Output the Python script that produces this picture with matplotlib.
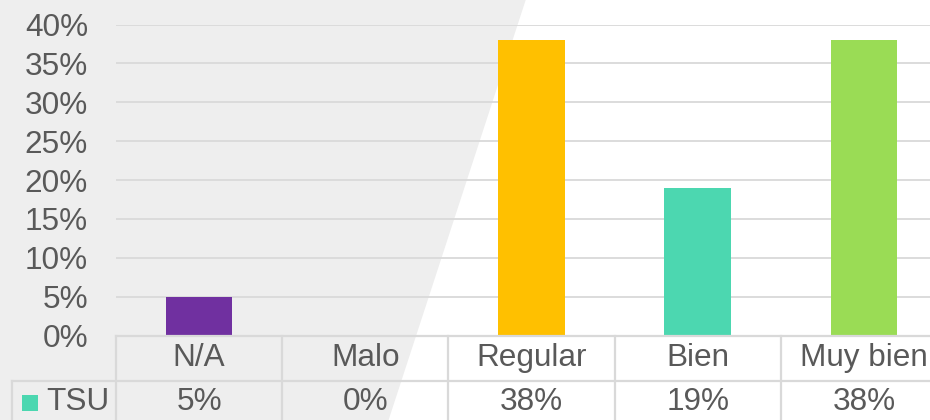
import matplotlib
matplotlib.use("Agg")
import matplotlib.pyplot as plt
from matplotlib.patches import Polygon, Rectangle
from matplotlib.lines import Line2D

categories = ["N/A", "Malo", "Regular", "Bien", "Muy bien"]
values = [5, 0, 38, 19, 38]
value_labels = ["5%", "0%", "38%", "19%", "38%"]
series_name = "TSU"
bar_colors = ["#7030A0", "#A5A5A5", "#FFC000", "#4CD7B0", "#9ADC55"]
legend_color = "#4CD7B0"
yticks = [0, 5, 10, 15, 20, 25, 30, 35, 40]

W, H = 930, 420
plt.rcParams['font.family'] = ['Liberation Sans', 'DejaVu Sans']
fig = plt.figure(figsize=(W / 100, H / 100), dpi=100, facecolor="white")

def fx(px):
    return px / W

def fy(py):
    return 1 - py / H

# background grey slanted shape
poly = Polygon([(fx(0), fy(0)), (fx(525.7), fy(0)), (fx(388.6), fy(420)), (fx(0), fy(420))],
               closed=True, transform=fig.transFigure, facecolor="#EEEEEE", edgecolor="none", zorder=-5)
fig.patches.append(poly)

left, right = 116, 947
top, bottom = 24.5, 335.5
ax = fig.add_axes([fx(left), fy(bottom), fx(right) - fx(left), (bottom - top) / H], zorder=1)
ax.set_facecolor("none")
x = list(range(len(categories)))
ax.bar(x, values, width=0.4, color=bar_colors, zorder=3)
ax.set_xlim(-0.5, len(categories) - 0.5)
ax.set_ylim(0, 40)
ax.set_yticks(yticks)
ax.set_yticklabels([f"{v}%" for v in yticks], fontsize=22.7, color="#595959")
ax.set_xticks([])
ax.tick_params(axis="y", length=0, pad=20.2)
ax.yaxis.grid(True, color="#D9D9D9", linewidth=1.3, zorder=0)
for s in ax.spines.values():
    s.set_visible(False)

# data table
gc = "#D9D9D9"
lw = 1.6
col_w = (right - left) / len(categories)
fig.add_artist(Line2D([fx(left), fx(right)], [fy(336), fy(336)], color=gc, lw=lw, transform=fig.transFigure, zorder=2))
fig.add_artist(Line2D([fx(12), fx(right)], [fy(380.5), fy(380.5)], color=gc, lw=lw, transform=fig.transFigure, zorder=2))
for i in range(len(categories) + 1):
    xp = left + i * col_w
    fig.add_artist(Line2D([fx(xp), fx(xp)], [fy(336), fy(420)], color=gc, lw=lw, transform=fig.transFigure, zorder=2))
fig.add_artist(Line2D([fx(12.3), fx(12.3)], [fy(380.5), fy(420)], color=gc, lw=lw, transform=fig.transFigure, zorder=2))

for i, (c, v) in enumerate(zip(categories, value_labels)):
    cx = left + (i + 0.5) * col_w
    fig.text(fx(cx), fy(358), c, ha="center", va="center", fontsize=22.7, color="#595959", zorder=3)
    fig.text(fx(cx), fy(402), v, ha="center", va="center", fontsize=22.7, color="#595959", zorder=3)

fig.patches.append(Rectangle((fx(22), fy(411)), fx(16), 16 / H, transform=fig.transFigure,
                             facecolor=legend_color, edgecolor="none", zorder=3))
fig.text(fx(46), fy(402), series_name, ha="left", va="center", fontsize=22.7, color="#595959", zorder=3)

fig.savefig("out.png", dpi=100, facecolor="white")
